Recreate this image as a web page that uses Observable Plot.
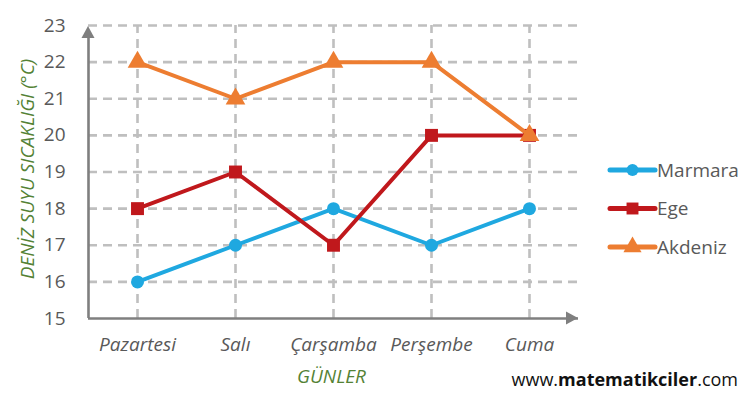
<!DOCTYPE html>
<html>
<head>
<meta charset="utf-8">
<script src="https://cdn.jsdelivr.net/npm/d3@7"></script>
<script src="https://cdn.jsdelivr.net/npm/@observablehq/plot@0.6"></script>
<style>
  html, body { margin: 0; padding: 0; background: #fff; }
  #chart { width: 750px; height: 400px; }
</style>
</head>
<body>
<div id="chart"></div>
<script>
const days = ["Pazartesi", "Salı", "Çarşamba", "Perşembe", "Cuma"];
const seriesNames = ["Marmara", "Ege", "Akdeniz"];
const marmara = [16, 17, 18, 17, 18];
const ege = [18, 19, 17, 20, 20];
const akdeniz = [22, 21, 22, 22, 20];
const yTicks = [15, 16, 17, 18, 19, 20, 21, 22, 23];
const colors = ["#1fa8e0", "#c0181c", "#ed7d31"];
const symbols = ["circle", "square", "triangle"];
const radii = [6.5, 7.3, 7.3];
const yTitle = "DENİZ SUYU SICAKLIĞI (°C)";
const xTitle = "GÜNLER";

const values = [marmara, ege, akdeniz];
const rows = [];
values.forEach((arr, s) => arr.forEach((v, i) => rows.push({series: seriesNames[s], s, i, day: days[i], v})));

const font = "'Open Sans', sans-serif";
const textColor = "#595959";
const green = "#548235";
const gridColor = "#bfbfbf";
const axisColor = "#7f7f7f";

const marks = [
  Plot.gridY(yTicks.filter(t => t > 15), {stroke: gridColor, strokeOpacity: 1, strokeWidth: 2.6, strokeDasharray: "9,6"}),
  Plot.ruleX(d3.range(days.length), {y1: 15, y2: 23, stroke: gridColor, strokeWidth: 2.6, strokeDasharray: "9,6"}),
  Plot.axisY({ticks: yTicks, tickSize: 0, tickPadding: 23, fontSize: 19, fill: textColor, label: null}),
  Plot.axisX({ticks: d3.range(days.length), tickFormat: i => days[i], tickSize: 0, tickPadding: 19, fontSize: 19, fill: textColor, fontStyle: "italic", label: null}),
  Plot.ruleY([15], {stroke: axisColor, strokeWidth: 2.6}),
  Plot.ruleX([-0.5], {y1: 15, y2: 22.7, stroke: axisColor, strokeWidth: 2.6}),
  Plot.text([yTitle], {frameAnchor: "left", textAnchor: "middle", dx: -61, dy: -3, rotate: -90, fontSize: 19, fontStyle: "italic", fill: green}),
  Plot.text([xTitle], {frameAnchor: "bottom", dx: -2, dy: 64, fontSize: 19, fontStyle: "italic", fill: green})
];
seriesNames.forEach((name, s) => {
  const d = rows.filter(r => r.s === s);
  marks.push(Plot.line(d, {x: "i", y: "v", stroke: colors[s], strokeWidth: 4}));
  marks.push(Plot.dot(d, {x: "i", y: "v", symbol: () => symbols[s], fill: colors[s], r: radii[s], stroke: "none"}));
});

const chart = Plot.plot({
  width: 750,
  height: 400,
  marginLeft: 88,
  marginRight: 172,
  marginTop: 25,
  marginBottom: 82,
  style: {fontFamily: font, background: "#fff"},
  x: {type: "linear", domain: [-0.5, days.length - 0.5], axis: null},
  y: {domain: [15, 23], axis: null},
  symbol: {type: "identity"},
  marks
});
document.getElementById("chart").appendChild(chart);

// axis arrowheads, legend, watermark
const svg = d3.select(chart);
const xs = chart.scale("x"), ys = chart.scale("y");
const x0 = xs.apply(-0.5), xEnd = xs.apply(days.length - 0.5);
const y0 = ys.apply(15), yTop = ys.apply(23);
svg.append("path").attr("d", `M${x0 - 6.5},${yTop + 13} L${x0},${yTop + 1} L${x0 + 6.5},${yTop + 13} Z`).attr("fill", axisColor);
svg.append("path").attr("d", `M${xEnd - 12},${y0 - 6.5} L${xEnd},${y0} L${xEnd - 12},${y0 + 6.5} Z`).attr("fill", axisColor);

const lg = svg.append("g").attr("font-family", font).attr("text-anchor", "start");
const symGen = [d3.symbolCircle, d3.symbolSquare, d3.symbolTriangle];
seriesNames.forEach((name, s) => {
  const cy = 170 + s * 38.5;
  const g = lg.append("g").attr("transform", `translate(610,${cy})`);
  g.append("line").attr("x1", 0).attr("x2", 45).attr("stroke", colors[s]).attr("stroke-width", 5).attr("stroke-linecap", "round");
  g.append("path").attr("transform", "translate(22.5,0)").attr("d", d3.symbol(symGen[s], Math.PI * radii[s] * radii[s] * 0.85)()).attr("fill", colors[s]);
  g.append("text").attr("x", 47).attr("dy", "0.35em").attr("font-size", 19).attr("fill", textColor).text(name);
});

const wm = svg.append("text").attr("x", 738).attr("y", 386).attr("text-anchor", "end")
  .attr("font-family", font).attr("font-size", 18).attr("fill", "#111");
wm.append("tspan").text("www.");
wm.append("tspan").attr("font-weight", "bold").text("matematikciler");
wm.append("tspan").text(".com");
</script>
</body>
</html>
